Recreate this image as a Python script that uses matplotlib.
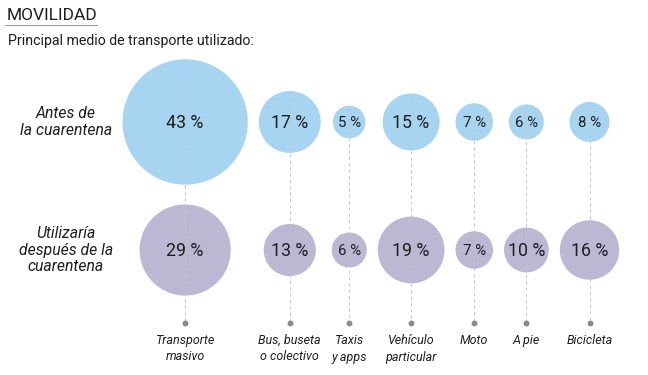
import matplotlib
matplotlib.use("Agg")
import matplotlib.pyplot as plt
from matplotlib.patches import Circle

# data
categories = ["Transporte\nmasivo", "Bus, buseta\no colectivo", "Taxis\ny apps",
              "Vehículo\nparticular", "Moto", "A pie", "Bicicleta"]
antes = [43, 17, 5, 15, 7, 6, 8]
despues = [29, 13, 6, 19, 7, 10, 16]
row_labels = ["Antes de\nla cuarentena", "Utilizaría\ndespués de la\ncuarentena"]

BLUE = "#a7d5f1"
PURPLE = "#bcb8d4"
TEXT = "#1e1e1e"
FONT = ["Roboto", "DejaVu Sans"]

W, H = 648, 375
ROW_Y = [122, 250]
DOT_Y = 323
LEFT_EDGE = 122.5
PAD = 11


def radius(v):
    # circle radius (px) grows linearly with the share
    return 10.2 + 1.22 * v


fig = plt.figure(figsize=(W / 100, H / 100), dpi=100)
ax = fig.add_axes([0, 0, 1, 1])
ax.set_xlim(0, W)
ax.set_ylim(H, 0)
ax.set_aspect("equal")
ax.axis("off")

# column positions: circles packed side by side with a small gap
rmax = [max(radius(a), radius(d)) for a, d in zip(antes, despues)]
xs = []
x = LEFT_EDGE
for i, r in enumerate(rmax):
    if i == 0:
        x += r
    else:
        x += rmax[i - 1] + r + PAD
    xs.append(x)

for i, (cx, a, d) in enumerate(zip(xs, antes, despues)):
    for val, cy, col in ((a, ROW_Y[0], BLUE), (d, ROW_Y[1], PURPLE)):
        ax.add_patch(Circle((cx, cy), radius(val), facecolor=col, edgecolor="none", zorder=1))
        fs = 12.8 if val >= 10 else 10.8
        ax.text(cx, cy + 1, f"{val} %", ha="center", va="center", fontsize=fs,
                color=TEXT, family=FONT, zorder=3)
    # dashed guide from top of upper circle to the dot
    ax.plot([cx, cx], [ROW_Y[0] - radius(a), DOT_Y], color="#c4c4c4", lw=0.7,
            ls=(0, (3, 3.5)), zorder=2)
    ax.plot(cx, DOT_Y, "o", color="#8a8a8a", ms=3.2, zorder=2)
    ax.text(cx, 334, categories[i], ha="center", va="top", fontsize=9,
            style="italic", color=TEXT, family=FONT, linespacing=1.35)

for lab, cy in zip(row_labels, ROW_Y):
    ax.text(66, cy, lab, ha="center", va="center", fontsize=11.3, style="italic",
            color=TEXT, family=FONT, linespacing=1.15, multialignment="center")

# header
ax.text(7, 15, "MOVILIDAD", ha="left", va="center", fontsize=12.5, color=TEXT, family=FONT)
ax.plot([5, 97], [25, 25], color="#a0a0a0", lw=0.8)
ax.text(8, 41, "Principal medio de transporte utilizado:", ha="left", va="center",
        fontsize=10.2, color=TEXT, family=FONT)

fig.savefig("out.png", dpi=100)
